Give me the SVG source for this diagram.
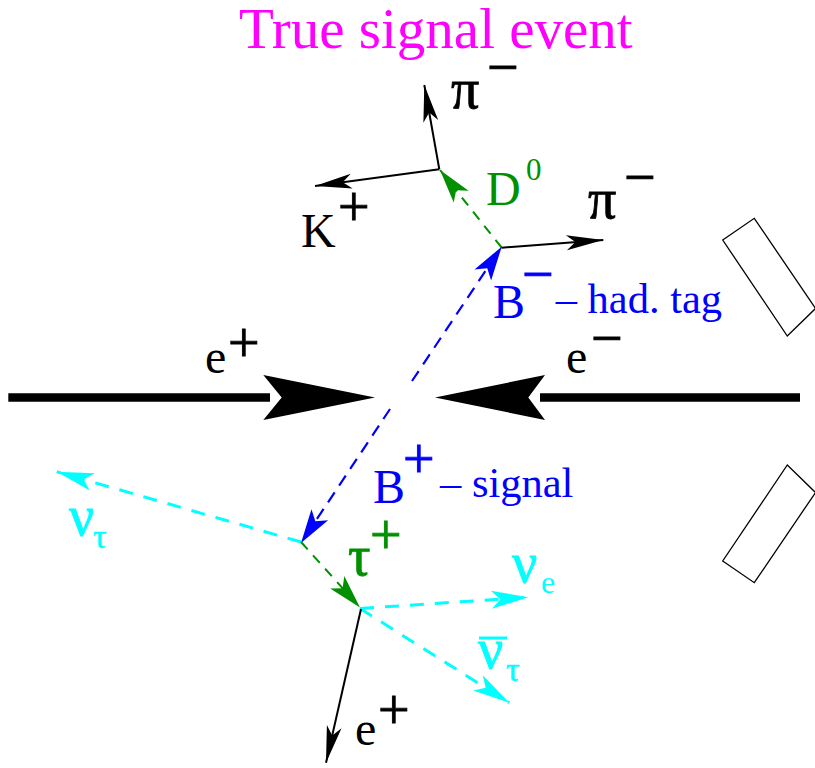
<svg xmlns="http://www.w3.org/2000/svg" width="815" height="768" viewBox="0 0 815 768">
<style>
  text { font-family: "Liberation Serif", "Times New Roman", serif; stroke-width: 0; }
  .lbl { font-size: 48px; }
  .gr { font-size: 56px; stroke-width: 0.8px; }
  .sup { font-size: 56px; stroke-width: 0.9px; }
  .sub { font-size: 32px; }
  .subg { font-size: 34px; stroke-width: 0.5px; }
  .small { font-size: 42.5px; }
  .blk { fill: #000; stroke: #000; }
  .blu { fill: #0000ff; stroke: #0000ff; }
  .grn { fill: #009000; stroke: #009000; }
  .cyn { fill: #00ffff; stroke: #00ffff; }
  .line-k { stroke: #000; stroke-width: 2; fill: none; }
  .line-b { stroke: #0000ff; stroke-width: 2.2; fill: none; stroke-dasharray: 12 8; }
  .line-g { stroke: #009000; stroke-width: 2; fill: none; stroke-dasharray: 10 8; }
  .line-c { stroke: #00ffff; stroke-width: 3; fill: none; stroke-dasharray: 14 11; }
  .det { fill: none; stroke: #000; stroke-width: 1.3; }
</style>
<defs>
  <marker id="ak" markerUnits="userSpaceOnUse" viewBox="-40 -10 42 20" refX="0" refY="0" markerWidth="42" markerHeight="20" orient="auto">
    <path d="M0,0 L-37,-7.5 L-28,0 L-37,7.5 Z" fill="#000"/>
  </marker>
  <marker id="ab" markerUnits="userSpaceOnUse" viewBox="-40 -12 42 24" refX="0" refY="0" markerWidth="42" markerHeight="24" orient="auto">
    <path d="M0,0 L-34,-10 L-26,0 L-34,10 Z" fill="#0000ff"/>
  </marker>
  <marker id="ag" markerUnits="userSpaceOnUse" viewBox="-40 -12 42 24" refX="0" refY="0" markerWidth="42" markerHeight="24" orient="auto">
    <path d="M0,0 L-34,-9.5 L-26,0 L-34,9.5 Z" fill="#009000"/>
  </marker>
  <marker id="ac" markerUnits="userSpaceOnUse" viewBox="-40 -12 42 24" refX="0" refY="0" markerWidth="42" markerHeight="24" orient="auto">
    <path d="M0,0 L-37,-9 L-28,0 L-37,9 Z" fill="#00ffff"/>
  </marker>
</defs>

<text id="title" x="239" y="48" style="font-size:57px" fill="#ff00ff">True signal event</text>

<g id="detectors">
  <polygon class="det" points="722.7,240 754.3,218.3 815.5,308.5 787.3,336"/>
  <polygon class="det" points="722.7,561 754.3,582.7 815.5,492.5 787.3,465"/>
</g>

<g id="beams">
  <g id="beam-eplus">
    <line x1="8.3" y1="397.5" x2="270" y2="397.5" stroke="#000" stroke-width="8.4"/>
    <polygon points="375,397.5 263.3,375 281.7,397.5 263.3,420" fill="#000"/>
    <text class="lbl blk" x="205" y="373">e</text>
    <text class="sup blk" x="228" y="362">+</text>
  </g>
  <g id="beam-eminus">
    <line x1="540" y1="397.5" x2="800" y2="397.5" stroke="#000" stroke-width="8.4"/>
    <polygon points="435,397.5 545,375 528.3,397.5 545,420" fill="#000"/>
    <text class="lbl blk" x="566" y="373">e</text>
    <text class="sup blk" x="591" y="357">−</text>
  </g>
</g>

<g id="connectors">
  <line class="line-b" x1="412" y1="381" x2="501.7" y2="246.7" marker-end="url(#ab)"/>
  <line class="line-g" x1="501.7" y1="247.7" x2="440" y2="170" marker-end="url(#ag)"/>
  <line class="line-k" x1="439.3" y1="169.3" x2="424.3" y2="85" marker-end="url(#ak)"/>
  <line class="line-k" x1="439.3" y1="169.3" x2="315" y2="186" marker-end="url(#ak)"/>
  <line class="line-k" x1="501.7" y1="247.7" x2="603.3" y2="240" marker-end="url(#ak)"/>
  <line class="line-b" x1="390" y1="409" x2="301" y2="543" marker-end="url(#ab)"/>
  <line class="line-c" x1="301" y1="542" x2="56.7" y2="471.7" marker-end="url(#ac)"/>
  <line class="line-g" x1="301" y1="542" x2="360" y2="607.5" marker-end="url(#ag)"/>
  <line class="line-c" x1="360" y1="608.5" x2="528.3" y2="597.3" marker-end="url(#ac)"/>
  <line class="line-c" x1="360" y1="608.5" x2="509.3" y2="702.7" marker-end="url(#ac)"/>
  <line class="line-k" x1="361" y1="609" x2="326" y2="762.7" marker-end="url(#ak)"/>
</g>

<g id="pi-top">
  <text class="gr blk" x="451" y="108">π</text>
  <text class="sup blk" x="487" y="86">−</text>
</g>
<g id="kplus">
  <text class="lbl blk" x="301" y="247">K</text>
  <text class="sup blk" x="338" y="226">+</text>
</g>
<g id="d0">
  <text class="lbl grn" x="486" y="205">D</text>
  <text class="grn" style="font-size:31px" x="526" y="180">0</text>
</g>
<g id="pi-right">
  <text class="gr blk" x="588" y="218">π</text>
  <text class="sup blk" x="624" y="196">−</text>
</g>
<g id="bminus">
  <text class="lbl blu" x="493" y="318">B</text>
  <text class="sup blu" x="522" y="293">−</text>
  <text class="small blu" x="555.7" y="313">– had. tag</text>
</g>
<g id="bplus">
  <text class="lbl blu" x="373" y="503">B</text>
  <text class="sup blu" x="403" y="478">+</text>
  <text class="small blu" x="440" y="497">– signal</text>
</g>
<g id="nutau">
  <text class="gr cyn" x="69" y="535">ν</text>
  <text class="subg cyn" x="93" y="548">τ</text>
</g>
<g id="tauplus">
  <text class="gr grn" x="348" y="575">τ</text>
  <text class="sup grn" x="370" y="554">+</text>
</g>
<g id="nue">
  <text class="gr cyn" x="512" y="582">ν</text>
  <text class="sub cyn" x="541" y="593">e</text>
</g>
<g id="nutaubar">
  <line x1="479" y1="638" x2="507" y2="638" stroke="#00ffff" stroke-width="3"/>
  <text class="gr cyn" x="478" y="668">ν</text>
  <text class="subg cyn" x="506" y="681">τ</text>
</g>
<g id="eplus-low">
  <text class="lbl blk" x="355" y="745">e</text>
  <text class="sup blk" x="378" y="729">+</text>
</g>
</svg>
